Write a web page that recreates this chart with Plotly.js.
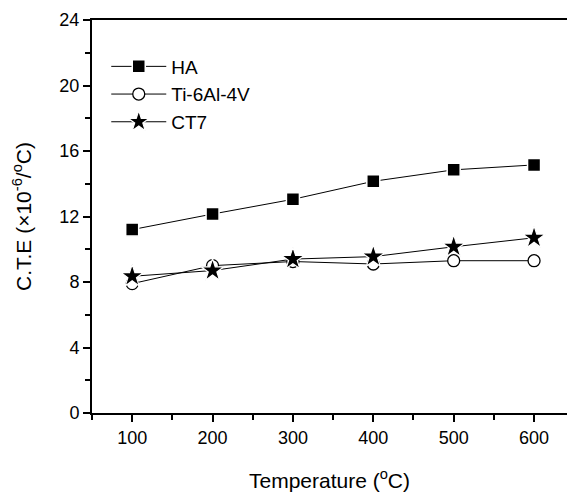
<!DOCTYPE html>
<html>
<head>
<meta charset="utf-8">
<script src="https://cdn.plot.ly/plotly-3.0.1.min.js"></script>
<style>
html,body{margin:0;padding:0;background:#fff;}
#chart{width:567px;height:492px;}
</style>
</head>
<body>
<div id="chart"></div>
<script>
const temperature = [100, 200, 300, 400, 500, 600];
const haCTE   = [11.2, 12.15, 13.05, 14.15, 14.85, 15.15];
const tiCTE   = [7.9, 9.0, 9.25, 9.1, 9.3, 9.3];
const ct7CTE  = [8.35, 8.7, 9.4, 9.55, 10.15, 10.7];
const seriesNames = ["HA", "Ti-6Al-4V", "CT7"];

const lineStyle = {color: "#000", width: 1};
const traces = [
  {x: temperature, y: haCTE, name: seriesNames[0], type: "scatter", mode: "lines+markers",
   line: lineStyle, marker: {symbol: "square", size: 13, color: "#000", line: {color: "#fff", width: 1.5}}},
  {x: temperature, y: tiCTE, name: seriesNames[1], type: "scatter", mode: "lines+markers",
   line: lineStyle, marker: {symbol: "circle", size: 12, color: "#fff", line: {color: "#000", width: 1.3}}},
  {x: temperature, y: ct7CTE, name: seriesNames[2], type: "scatter", mode: "lines+markers",
   line: lineStyle, marker: {symbol: "star", size: 17, color: "#000", line: {color: "#fff", width: 1.2}}}
];

const font = {family: "Liberation Sans, Arial, sans-serif", color: "#000"};
const layout = {
  width: 567, height: 492,
  margin: {l: 92, r: 0, t: 20, b: 79},
  paper_bgcolor: "#fff", plot_bgcolor: "#fff",
  font: Object.assign({size: 18}, font),
  showlegend: true,
  legend: {x: 0.03, y: 0.93, xanchor: "left", yanchor: "top", bgcolor: "rgba(0,0,0,0)",
           font: Object.assign({size: 19}, font), itemwidth: 55, tracegroupgap: 0},
  xaxis: {
    range: [50, 641], showgrid: false, zeroline: false,
    showline: true, linecolor: "#000", linewidth: 2, mirror: true,
    ticks: "outside", ticklen: 7, tickwidth: 2, tickcolor: "#000",
    tickvals: temperature, ticktext: temperature.map(String),
    tickfont: Object.assign({size: 18}, font),
    minor: {dtick: 50, tick0: 50, ticks: "outside", ticklen: 5, tickwidth: 2, tickcolor: "#000", showgrid: false},
    title: {text: "Temperature (<sup>o</sup>C)", font: Object.assign({size: 21}, font), standoff: 30}
  },
  yaxis: {
    range: [0, 24], showgrid: false, zeroline: false,
    showline: true, linecolor: "#000", linewidth: 2, mirror: false,
    ticks: "outside", ticklen: 7, tickwidth: 2, tickcolor: "#000",
    tickvals: [0, 4, 8, 12, 16, 20, 24],
    tickfont: Object.assign({size: 18}, font),
    minor: {dtick: 2, tick0: 0, ticks: "outside", ticklen: 5, tickwidth: 2, tickcolor: "#000", showgrid: false},
    title: {text: "C.T.E (×10<sup>-6</sup>/<sup>o</sup>C)", font: Object.assign({size: 21}, font), standoff: 22}
  }
};

Plotly.newPlot("chart", traces, layout, {staticPlot: true, displayModeBar: false});
</script>
</body>
</html>
